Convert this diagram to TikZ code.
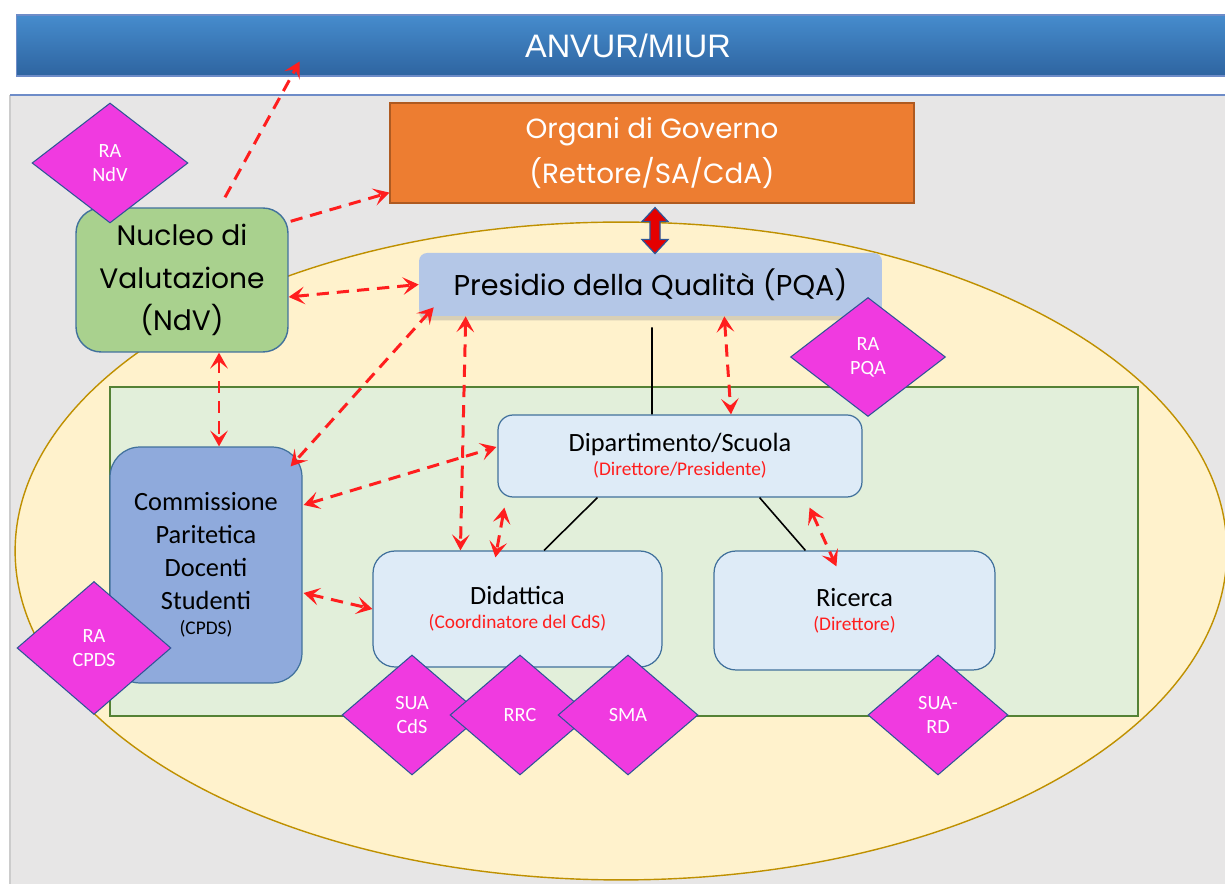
\documentclass[tikz,border=0pt]{standalone}
\usepackage{fontspec}
\setmainfont{Carlito}
\newfontfamily\titlefont{Liberation Sans}
\newfontfamily\handfont{Poppins}
\usepackage{tikz}
\usetikzlibrary{positioning,shapes,shapes.geometric,shadows,arrows.meta}

\definecolor{panelgray}{RGB}{231,230,230}
\definecolor{panelline}{RGB}{110,140,200}
\definecolor{ovalfill}{RGB}{255,242,204}
\definecolor{ovalline}{RGB}{191,144,0}
\definecolor{zonegreen}{RGB}{226,239,218}
\definecolor{zoneline}{RGB}{84,130,53}
\definecolor{govorange}{RGB}{237,125,49}
\definecolor{govline}{RGB}{174,90,33}
\definecolor{pqablue}{RGB}{180,199,231}
\definecolor{ndvgreen}{RGB}{169,209,142}
\definecolor{boxblue}{RGB}{65,113,156}
\definecolor{cpdsblue}{RGB}{143,170,220}
\definecolor{unitblue}{RGB}{222,235,247}
\definecolor{docpink}{RGB}{240,58,224}
\definecolor{docline}{RGB}{47,85,151}
\definecolor{rolered}{RGB}{255,30,30}
\definecolor{bartop}{RGB}{70,140,205}
\definecolor{barmid}{RGB}{96,158,216}
\definecolor{barbot}{RGB}{46,100,160}

\newcommand{\rolenote}[1]{{\color{rolered}\fontsize{11}{13}\selectfont #1}}

\begin{document}
\begin{tikzpicture}[x=0.02cm,y=-0.02cm]
\tikzstyle{every node}+=[inner sep=0pt]
\tikzstyle{unit}=[draw=boxblue, fill=unitblue, line width=0.7pt, align=center, font=\fontsize{15}{18.7}\selectfont]
\tikzstyle{doc}=[diamond, draw=docline, fill=docpink, line width=0.6pt, text=white, align=center, font=\fontsize{11.5}{13.6}\selectfont, minimum width=2.8cm, minimum height=2.4cm]
\tikzstyle{link}=[rolered, line width=1.7pt, dash pattern=on 7pt off 4.5pt, {Stealth[length=9pt,width=10pt,inset=4pt]}-{Stealth[length=9pt,width=10pt,inset=4pt]}]
\tikzstyle{uplink}=[link, -{Stealth[length=9pt,width=10pt,inset=4pt]}]
\tikzstyle{tie}=[black, line width=0.9pt]
\tikzstyle{bigarrow}=[fill=red!90!black, draw=docline, line width=0.7pt, line join=miter]

% background
\clip (0,0) rectangle (1225,884);
\fill[white] (0,0) rectangle (1225,884);
\fill[panelgray] (10,95) rectangle (1240,900);
\draw[black!20, line width=0.6pt] (10,900) -- (10,95);
\draw[panelline, line width=0.8pt] (10,95) -- (1240,95);
\draw[fill=ovalfill, draw=ovalline, line width=0.8pt] (621,551) ellipse [x radius=12.12cm, y radius=6.58cm];
\draw[fill=zonegreen, draw=zoneline, line width=0.8pt] (110,387) rectangle (1138,716);

\node[top color=bartop, middle color=barmid, bottom color=barbot, draw=panelline, line width=0.6pt, minimum width=24.48cm, minimum height=1.22cm, text=white, font=\titlefont\fontsize{18.5}{22}\selectfont] (anvur) at (628,45.5) {ANVUR/MIUR};

% governance and quality
\node[draw=govline, fill=govorange, line width=0.7pt, minimum width=10.48cm, minimum height=2cm, text=white, align=center, font=\handfont\fontsize{15.8}{25.5}\selectfont] (gov) at (652,153) {Organi di Governo\\(Rettore/SA/CdA)};
\node[fill=pqablue, rounded corners=0.16cm, drop shadow={shadow xshift=0pt, shadow yshift=-2.5pt, opacity=0.3, fill=black!50}, minimum width=9.26cm, minimum height=1.26cm, font=\handfont\fontsize{16.3}{20}\selectfont] (pqa) at (650.5,284.5) {Presidio della Qualità (PQA)};
\node[draw=boxblue, fill=ndvgreen, rounded corners=0.5cm, line width=0.8pt, minimum width=4.24cm, minimum height=2.88cm, align=center, font=\handfont\fontsize{16}{24}\selectfont] (ndv) at (182,280) {Nucleo di\\Valutazione\\(NdV)};

% structures
\node[unit, fill=cpdsblue, rounded corners=0.6cm, minimum width=3.84cm, minimum height=4.72cm] (cpds) at (206,565) {Commissione\\Paritetica\\Docenti\\Studenti\\[-4pt]{\fontsize{11}{13}\selectfont(CPDS)}};
\node[unit, rounded corners=0.3cm, minimum width=7.28cm, minimum height=1.64cm] (dip) at (680,456) {Dipartimento/Scuola\\[-5pt]\rolenote{(Direttore/Presidente)}};
\node[unit, rounded corners=0.44cm, minimum width=5.78cm, minimum height=2.32cm] (did) at (517.5,609) {Didattica\\[-5pt]\rolenote{(Coordinatore del CdS)}};
\node[unit, rounded corners=0.44cm, minimum width=5.62cm, minimum height=2.38cm] (ric) at (854.5,610.5) {Ricerca\\[-5pt]\rolenote{(Direttore)}};

\draw[tie] ([shift={(1.5,11)}]pqa.south) -- ([shift={(-28,0)}]dip.north);
\draw[tie] ([shift={(100,0)}]dip.south west) -- ([shift={(26.5,0)}]did.north);
\draw[tie] ([shift={(-103,0)}]dip.south east) -- ([shift={(92,0)}]ric.north west);

% documents
\node[doc, minimum width=3.12cm] (ra-ndv) at (110,163) {RA\\NdV};
\node[doc, minimum width=3.1cm, minimum height=2.38cm] (ra-pqa) at (868,357) {RA\\PQA};
\node[doc, minimum width=3.08cm, minimum height=2.66cm] (ra-cpds) at (94,648) {RA\\CPDS};
\node[doc] (sua-cds) at (412,715) {SUA\\CdS};
\node[doc] (rrc) at (520,715) {RRC};
\node[doc] (sma) at (628,715) {SMA};
\node[doc] (sua-rd) at (938,715) {SUA-\\RD};

% flows
\draw[bigarrow] ([shift={(3,4)}]gov.south) -- ++(13,14) -- ++(-8,0) -- ++(0,18) -- ++(8,0) -- ++(-13,14) -- ++(-13,-14) -- ++(8,0) -- ++(0,-18) -- ++(-8,0) -- cycle;
\draw[uplink] ([shift={(43,-10)}]ndv.north) -- ([shift={(284,-15)}]anvur.south west);
\draw[uplink] ([shift={(2,14)}]ndv.north east) -- ([shift={(0,-11)}]gov.south west);
\draw[link] ([shift={(0,17)}]ndv.east) -- (pqa.west);
\draw[link] ([shift={(37,0)}]ndv.south) -- ([shift={(13,0)}]cpds.north);
\draw[link] ([shift={(15,-9)}]pqa.south west) -- ([shift={(-12,20)}]cpds.north east);
\draw[link] ([shift={(47,0)}]pqa.south west) -- ([shift={(88,0)}]did.north west);
\draw[link] ([shift={(-158,0)}]pqa.south east) -- ([shift={(51,0)}]dip.north);
\draw[link] ([shift={(1,-60)}]cpds.east) -- ([shift={(-1,-9)}]dip.west);
\draw[link] ([shift={(1,28)}]cpds.east) -- (did.west);
\draw[link] ([shift={(7,10)}]dip.south west) -- ([shift={(123,7)}]did.north west);
\draw[link] ([shift={(-53,10)}]dip.south east) -- ([shift={(123,16)}]ric.north west);
\end{tikzpicture}
\end{document}
